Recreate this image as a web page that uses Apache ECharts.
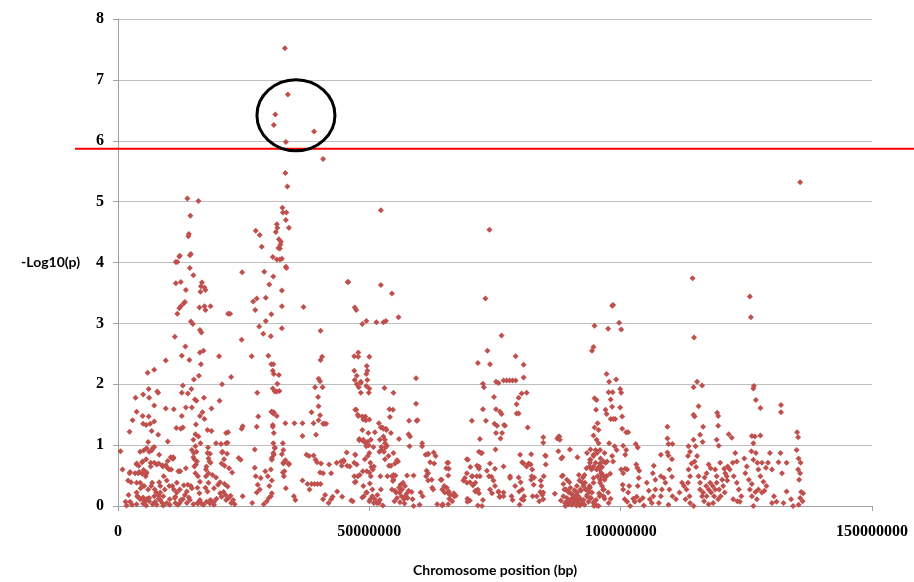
<!DOCTYPE html>
<html><head><meta charset="utf-8">
<script src="https://cdn.jsdelivr.net/npm/echarts@6/dist/echarts.min.js"></script>
<style>html,body{margin:0;padding:0;background:#fff}#c{width:914px;height:582px}</style>
</head><body><div id="c"></div>
<script>
// Axis ticks
const xTicks = [0, 50000000, 100000000, 150000000];
const yTicks = [0, 1, 2, 3, 4, 5, 6, 7, 8];
// Significance threshold (-log10 p)
const threshold = [5.87];
// Highlighted region centre [bp, -log10 p]
const highlightCenter = [35.4e6, 6.42];

// [position (bp), -log10(p)]
const seg1 = [
[13.8e6,5.05],[16.0e6,5.01],[14.4e6,4.77],[14.1e6,4.47],[14.0e6,4.43],[14.5e6,4.14],[14.3e6,4.12],[11.5e6,4.01],[11.8e6,4.01],[12.2e6,4.10],[12.3e6,4.11],[14.3e6,3.91],[15.0e6,3.79],[11.5e6,3.66],[12.5e6,3.68],[16.7e6,3.67],[16.5e6,3.61],[17.2e6,3.59],[17.4e6,3.55],[16.4e6,3.52],[13.5e6,3.55],[13.3e6,3.35],[13.1e6,3.33],[12.5e6,3.28],[12.2e6,3.25],[11.8e6,3.16],[16.2e6,3.26],[17.2e6,3.28],[17.4e6,3.22],[18.4e6,3.28],[14.5e6,3.03],[14.9e6,2.99],[16.3e6,2.89],[16.6e6,2.85],[11.3e6,2.78],[13.4e6,2.62],[17.0e6,2.55],[16.3e6,2.52],[12.7e6,2.47],[14.2e6,2.40],[16.5e6,2.33],[20.1e6,2.46],[9.5e6,2.39],[7.2e6,2.24],[5.9e6,2.19],[16.1e6,2.14],[15.1e6,2.08],[22.5e6,2.12],[20.7e6,2.00],[12.9e6,1.98],[14.6e6,1.92],[6.1e6,1.92],[7.8e6,1.88],[8.0e6,1.86],[5.0e6,1.83],[6.2e6,1.78],[3.5e6,1.78],[12.7e6,1.86],[13.9e6,1.85],[15.3e6,1.75],[15.6e6,1.73],[17.1e6,1.78],[9.5e6,1.60],[18.6e6,1.60],[13.5e6,1.62],[14.7e6,1.62],[3.7e6,1.55],[7.2e6,1.65],[2.9e6,1.41],[4.9e6,1.48],[5.0e6,1.35],[6.1e6,1.47],[5.6e6,1.33],[6.4e6,1.35],[7.2e6,1.39],[6.7e6,1.23],[2.3e6,1.22],[12.7e6,1.48],[16.3e6,1.48],[16.8e6,1.54],[17.2e6,1.43],[11.1e6,1.59],[15.5e6,1.34],[12.9e6,1.29],[12.5e6,1.27],[17.8e6,1.25],[18.6e6,1.23],[24.8e6,1.31],[24.6e6,1.27],[11.6e6,1.28],[9.9e6,1.06],[6.0e6,1.05],[8.0e6,1.17],[5.7e6,0.95],[4.4e6,0.89],[6.7e6,0.91],[8.2e6,0.84],[20.2e6,1.73],[21.9e6,3.16],[22.3e6,3.16],
[0.5e6,0.90],[0.9e6,0.60],[1.5e6,0.07],[1.7e6,0.01],[2.1e6,0.18],[2.3e6,0.54],[2.6e6,0.39],[3.7e6,0.70],[4.1e6,0.66],[4.9e6,0.73],[3.4e6,0.54],[4.0e6,0.54],[4.8e6,0.53],[5.1e6,0.91],[6.2e6,0.89],[6.9e6,0.95],[7.2e6,0.97],[4.4e6,0.38],[5.2e6,0.33],[4.5e6,0.29],[5.5e6,0.49],[3.7e6,0.22],[4.0e6,0.15],[4.9e6,0.11],[5.4e6,0.08],[5.8e6,0.12],[6.6e6,0.33],[7.3e6,0.27],[8.2e6,0.39],[8.4e6,0.22],[8.1e6,0.17],[8.8e6,0.05],[7.4e6,0.07],[10.7e6,0.79],[11.0e6,0.78],[9.1e6,0.49],[9.7e6,0.42],[10.2e6,0.60],[9.5e6,0.67],[10.8e6,0.33],[11.1e6,0.27],[11.7e6,0.22],[12.3e6,0.05],[12.5e6,0.10],[11.4e6,0.15],[12.2e6,0.57],[13.9e6,0.35],[14.5e6,0.33],[14.7e6,0.29],[13.7e6,0.24],[13.3e6,0.18],[14.1e6,0.14],[15.4e6,0.54],[15.9e6,0.49],[16.3e6,0.40],[15.8e6,0.30],[15.1e6,0.87],[15.2e6,0.77],[15.5e6,0.68],[14.7e6,0.92],[16.2e6,0.21],[16.6e6,0.04],[15.9e6,0.04],[17.4e6,0.30],[17.8e6,0.24],[17.5e6,0.49],[18.0e6,0.38],[17.6e6,0.65],[17.9e6,0.96],[18.3e6,0.86],[18.2e6,0.73],[18.8e6,0.51],[19.5e6,0.47],[19.1e6,0.29],[19.9e6,0.35],[20.3e6,0.39],[21.2e6,0.36],[21.8e6,0.32],[21.0e6,0.23],[21.4e6,0.18],[20.6e6,0.15],[21.5e6,0.10],[22.0e6,0.13],[22.5e6,0.05],[22.9e6,0.10],[23.2e6,0.03],[22.4e6,0.17],[20.3e6,0.21],[19.6e6,0.12],[19.1e6,0.07],[18.3e6,0.04],[20.7e6,0.88],[21.7e6,0.86],[21.5e6,1.03],[21.9e6,1.21],[24.0e6,0.79],[24.4e6,0.76],[24.8e6,0.16],
[2.4e6,0.56],[2.0e6,0.42],[5.1e6,0.59],[5.6e6,0.53],[6.5e6,0.65],[7.2e6,0.71],[8.1e6,0.70],[8.9e6,0.65],[9.9e6,0.62],[10.5e6,0.80],[10.9e6,0.78],[12.0e6,0.57],[12.4e6,0.57],[13.5e6,0.62],[15.0e6,1.09],[15.4e6,0.98],[15.6e6,0.89],[15.0e6,0.80],[15.7e6,0.73],[15.2e6,0.65],[15.4e6,1.18],[16.0e6,1.14],[16.4e6,1.03],[17.8e6,0.87],[18.0e6,0.78],[18.4e6,0.71],[17.5e6,0.60],[18.0e6,0.54],[19.5e6,1.03],[20.5e6,1.02],[20.8e6,0.89],[21.1e6,0.77],[21.8e6,1.04],[21.5e6,1.20],[22.1e6,0.62],[22.7e6,0.55],[20.6e6,0.70],[21.2e6,0.66],
[2.4e6,0.07],[2.8e6,0.02],[3.7e6,0.03],[4.4e6,0.11],[5.0e6,0.04],[5.6e6,0.01],[6.2e6,0.08],[6.9e6,0.03],[7.7e6,0.02],[8.4e6,0.10],[9.0e6,0.01],[9.7e6,0.05],[10.3e6,0.02],[11.4e6,0.05],[11.9e6,0.02],[12.9e6,0.11],[13.7e6,0.05],[14.3e6,0.10],[15.0e6,0.03],[15.8e6,0.05],[16.3e6,0.10],[17.0e6,0.02],[17.6e6,0.07],[18.4e6,0.10],[19.1e6,0.02],
[3.7e6,0.68],[4.8e6,0.72],[5.6e6,0.77],[4.2e6,0.56],[5.7e6,0.55],[6.5e6,0.71],[7.7e6,0.68],[8.8e6,0.67],[9.9e6,0.74],[11.0e6,0.80],[10.6e6,0.60],[3.7e6,0.38],[4.9e6,0.33],[6.0e6,0.27],[6.8e6,0.38],[7.6e6,0.22],[8.4e6,0.33],[9.3e6,0.27],[10.2e6,0.33],[11.7e6,0.38],[12.3e6,0.27],[13.1e6,0.34],[3.8e6,0.16],[5.0e6,0.14],[6.2e6,0.13],[7.2e6,0.16],[8.1e6,0.12],[9.0e6,0.16],[10.3e6,0.11],[11.3e6,0.13]
];

const seg2 = [
[33.2e6,7.52],[33.8e6,6.76],[31.3e6,6.43],[31.0e6,6.26],[39.0e6,6.15],[33.4e6,5.98],[33.3e6,5.47],[33.7e6,5.25],[40.8e6,5.70],
[32.7e6,4.90],[33.5e6,4.82],[32.8e6,4.82],[33.4e6,4.70],[34.0e6,4.57],[31.6e6,4.63],[31.7e6,4.57],[31.4e6,4.50],[32.0e6,4.38],[32.4e6,4.34],[31.9e6,4.24],[32.2e6,4.23],[32.3e6,4.29],[27.4e6,4.52],[28.2e6,4.45],[28.6e6,4.26],[30.8e6,4.09],[31.6e6,4.05],[32.2e6,4.05],[32.6e6,4.06],[33.4e6,3.93],[33.5e6,3.91],[24.7e6,3.84],[29.1e6,3.85],[30.9e6,3.77],[30.1e6,3.64],[26.9e6,3.36],[27.6e6,3.41],[27.3e6,3.22],[29.4e6,3.42],[32.6e6,3.54],[30.5e6,3.15],[29.4e6,3.04],[32.6e6,3.28],[28.1e6,2.95],[28.9e6,2.83],[30.4e6,2.79],[32.6e6,2.92],[24.6e6,2.73],[26.6e6,2.46],[29.9e6,2.47],[30.5e6,2.33],[30.9e6,2.33],[30.8e6,2.22],[31.0e6,2.17],[32.0e6,2.15],[31.7e6,2.01],[30.8e6,1.93],[31.2e6,1.88],[31.6e6,1.88],[32.1e6,1.89],[27.7e6,1.86],[30.6e6,1.55],[30.9e6,1.52],[31.6e6,1.48],[30.8e6,1.33],[31.0e6,1.20],[33.3e6,1.36],[27.6e6,1.30],[27.9e6,1.47],[30.9e6,1.03],[31.2e6,0.95],[31.0e6,0.84],[30.6e6,0.76],[32.8e6,1.03],[32.9e6,0.71],[32.8e6,0.55],[33.2e6,0.73],[34.0e6,0.70],[35.1e6,1.36],[36.7e6,1.36],[36.7e6,1.15],[36.9e6,3.27],[40.3e6,2.88],[40.6e6,2.45],[40.3e6,2.40],[39.9e6,2.09],[40.2e6,2.05],[40.7e6,1.95],[39.8e6,1.79],[39.9e6,1.64],[40.2e6,1.49],[39.2e6,1.95],[41.0e6,1.35],[41.4e6,1.35],[45.7e6,3.68],
[26.7e6,0.05],[27.2e6,0.93],[27.2e6,0.63],[27.4e6,0.49],[27.8e6,0.35],[28.4e6,0.46],[27.6e6,0.22],[28.2e6,0.27],[29.0e6,0.03],[29.6e6,0.08],[30.0e6,0.13],[30.4e6,0.16],[30.6e6,0.21],[29.3e6,0.57],[29.8e6,0.49],[30.1e6,0.33],[30.6e6,0.42],[30.4e6,0.60],[30.6e6,0.79],[30.9e6,0.87],[31.2e6,0.96],[30.8e6,1.30],[31.0e6,1.54],[30.5e6,1.55],[32.9e6,0.70],[33.3e6,0.75],[34.0e6,0.68],[33.1e6,0.57],[33.0e6,0.49],[33.4e6,0.29],[32.6e6,0.85],[32.9e6,0.92],[35.0e6,0.16],[35.3e6,0.10],[36.7e6,0.42],[37.7e6,0.36],[38.1e6,0.27],[38.5e6,0.36],[37.5e6,0.84],[38.0e6,0.82],[38.9e6,0.83],[39.3e6,0.76],[39.6e6,0.72],[40.4e6,0.70],[38.9e6,1.36],[39.4e6,1.17],[39.9e6,1.41],[40.8e6,1.35],[38.5e6,1.54],[40.2e6,0.55],[40.8e6,0.54],[42.0e6,0.68],[42.4e6,0.54],[39.1e6,0.36],[39.7e6,0.36],[40.3e6,0.36],[40.8e6,0.11],[41.2e6,0.18],[41.9e6,0.05],[42.4e6,0.11],[42.7e6,0.15],[44.4e6,0.73],[44.9e6,0.73],[45.6e6,0.66],[46.1e6,0.65],[44.6e6,0.15],[43.6e6,0.24],[46.7e6,0.08],[47.2e6,0.84],[47.5e6,0.68],[47.7e6,0.49],[47.3e6,0.40],[48.1e6,0.51],[48.0e6,1.10],[48.7e6,1.07],[49.3e6,1.03],[49.9e6,1.00],[47.2e6,1.58],[47.7e6,1.50],[48.8e6,1.42],[49.3e6,1.41],[50.0e6,1.42],[47.5e6,2.00],[48.3e6,2.04],[49.9e6,1.86]
];

const seg3 = [
[52.3e6,4.86],[45.8e6,3.68],[52.3e6,3.63],[54.5e6,3.49],[47.1e6,3.26],[47.4e6,3.22],[55.8e6,3.10],[48.6e6,2.99],[49.4e6,3.04],[51.4e6,3.02],[52.8e6,3.02],[53.3e6,3.04],[47.0e6,2.46],[47.8e6,2.52],[47.8e6,2.45],[47.0e6,2.22],[50.0e6,2.45],[49.5e6,2.30],[49.6e6,2.22],[49.4e6,2.17],[49.6e6,2.07],[47.5e6,2.14],[47.1e6,2.07],[48.3e6,2.02],[47.9e6,1.95],[48.3e6,1.86],[49.4e6,1.97],[50.0e6,1.93],[53.0e6,1.94],[59.3e6,2.10],[54.8e6,1.86],[47.4e6,1.58],[47.8e6,1.48],[48.6e6,1.47],[49.2e6,1.47],[54.0e6,1.59],[54.7e6,1.58],[54.1e6,1.46],[51.9e6,1.36],[52.3e6,1.29],[52.8e6,1.27],[53.3e6,1.27],[57.9e6,1.40],[59.4e6,1.40],[57.8e6,1.18],[58.1e6,1.14],[59.3e6,1.68],[48.6e6,1.25],[49.8e6,1.20],[48.0e6,1.08],[48.8e6,1.09],[49.6e6,1.05],[50.3e6,1.09],[52.1e6,1.09],[52.8e6,1.14],[53.1e6,1.03],[53.5e6,0.99],[52.4e6,0.92],[52.0e6,0.89],[52.9e6,0.89],[51.1e6,1.21],[54.3e6,1.20],[55.9e6,1.10],[58.0e6,0.98],[60.5e6,1.03],[60.5e6,0.98],[61.7e6,0.85],[62.8e6,0.88],[63.2e6,0.82],[62.9e6,0.70],[43.5e6,0.71],[45.5e6,0.88],[44.9e6,0.75],[44.5e6,0.66],[47.2e6,0.84],[47.0e6,0.71],[49.1e6,0.77],[50.0e6,0.87],[50.8e6,0.97],[48.7e6,0.57],[50.0e6,0.55],[50.7e6,0.60],[50.4e6,0.64],[54.8e6,0.87],[55.5e6,0.75],[55.7e6,0.73],[53.9e6,0.66],[47.0e6,0.49],[47.1e6,0.39],[46.4e6,0.09],[48.8e6,0.33],[49.4e6,0.22],[50.6e6,0.16],[50.0e6,0.08],[51.1e6,0.11],[51.9e6,0.05],[52.1e6,0.10],[52.7e6,0.01],[48.6e6,0.14],[54.5e6,0.49],[54.8e6,0.43],[55.2e6,0.50],[54.5e6,0.27],[55.1e6,0.25],[55.3e6,0.22],[56.0e6,0.22],[56.4e6,0.16],[56.5e6,0.27],[57.2e6,0.16],[57.6e6,0.13],[57.8e6,0.25],[58.4e6,0.23],[58.6e6,0.11],[56.9e6,0.11],[55.5e6,0.13],[57.5e6,0.50],[58.8e6,0.50],[60.2e6,0.22],[60.6e6,0.16],[61.4e6,0.58],[61.7e6,0.42],[62.5e6,0.30],[60.0e6,0.02],[58.8e6,0.00],[64.2e6,0.43],[64.5e6,0.27],[65.0e6,0.22],[65.4e6,0.30],[65.7e6,0.21],[65.9e6,0.12],[65.5e6,0.71],[65.8e6,0.61],[65.7e6,0.50],[64.6e6,0.03],[66.9e6,0.16],
[49.4e6,0.98],[49.7e6,0.82],[50.2e6,0.71],[50.9e6,0.65],[49.5e6,0.57],[50.3e6,0.49],[50.1e6,0.37],[50.6e6,0.27],[49.5e6,0.22],[48.9e6,0.16],[50.2e6,0.11],[50.9e6,0.05],[51.5e6,0.05],[52.6e6,1.29],[53.4e6,1.25],[53.1e6,1.09],[52.4e6,0.97],[53.2e6,0.96],[53.8e6,0.82],[53.1e6,0.77],[52.2e6,0.49],[53.6e6,0.49],[54.8e6,0.51],[55.1e6,0.70],[54.3e6,0.66],[54.7e6,0.41],[52.3e6,0.27],[51.6e6,0.18],[59.6e6,1.41],[61.2e6,0.84],[61.7e6,0.86],[62.1e6,0.72],[62.7e6,0.27],[61.3e6,0.49],[61.7e6,0.54],[62.4e6,0.43],[64.4e6,0.43],[64.9e6,0.33],[65.3e6,0.62],[65.7e6,0.71],[65.8e6,0.24],[66.1e6,0.18],[66.8e6,0.21],[67.2e6,0.17],[66.5e6,0.08],[64.5e6,0.01],[65.7e6,0.03],[63.5e6,0.03],
[55.9e6,0.30],[56.2e6,0.35],[56.7e6,0.38],[57.1e6,0.33],[57.4e6,0.20],[56.1e6,0.06],[57.0e6,0.04],[55.0e6,0.08]
];

const seg4 = [
[73.9e6,4.54],[73.1e6,3.41],[76.3e6,2.80],[73.5e6,2.55],[71.6e6,2.35],[74.0e6,2.33],[79.1e6,2.46],[80.7e6,2.32],[72.6e6,2.01],[72.8e6,1.95],[75.2e6,2.04],[75.7e6,2.02],[76.7e6,2.06],[77.3e6,2.06],[77.9e6,2.06],[78.5e6,2.06],[79.1e6,2.06],[80.7e6,2.11],[81.3e6,1.86],[80.3e6,1.85],[79.7e6,1.78],[79.3e6,1.67],[79.3e6,1.52],[79.7e6,1.52],[74.8e6,1.79],[75.2e6,1.59],[76.0e6,1.55],[76.3e6,1.51],[72.6e6,1.59],[70.4e6,1.40],[73.2e6,1.40],[74.9e6,1.35],[75.4e6,1.32],[76.8e6,1.33],[77.0e6,1.32],[75.2e6,1.20],[76.4e6,1.20],[76.1e6,1.11],[81.5e6,1.29],[72.0e6,1.10],
[68.7e6,0.42],[69.4e6,0.54],[69.6e6,0.76],[70.0e6,0.39],[70.6e6,0.34],[71.1e6,0.25],[70.4e6,0.49],[71.4e6,0.66],[71.8e6,0.61],[72.0e6,0.49],[71.1e6,0.38],[71.6e6,0.27],[69.5e6,0.12],[70.0e6,0.09],[71.6e6,0.01],[72.4e6,0.00],[71.8e6,0.89],[72.4e6,0.87],[74.0e6,0.70],[74.3e6,0.48],[74.7e6,0.42],[74.0e6,0.27],[74.4e6,0.21],[75.7e6,0.23],[76.0e6,0.15],[76.7e6,0.16],[75.1e6,0.93],[78.0e6,0.46],[78.3e6,0.16],[78.5e6,0.10],[79.7e6,0.47],[80.1e6,0.39],[80.4e6,0.27],[80.8e6,0.16],[80.7e6,0.10],[81.3e6,0.65],[81.7e6,0.70],[82.2e6,0.85],[82.2e6,0.43],[82.8e6,0.47],[82.5e6,0.16],[83.3e6,0.16],[83.8e6,0.08],[84.6e6,0.11],[84.6e6,0.22],[84.2e6,0.33],[84.6e6,1.13],[84.6e6,1.04],[85.0e6,0.83],[87.7e6,1.14],[87.9e6,1.09],[87.6e6,0.90],[88.2e6,0.78],[89.9e6,0.93],
[69.4e6,0.77],[70.1e6,0.64],[70.5e6,0.49],[69.0e6,0.46],[69.4e6,0.38],[70.7e6,0.35],[71.4e6,0.49],[71.8e6,0.65],[72.2e6,0.87],[73.4e6,0.58],[73.8e6,0.49],[71.1e6,0.24],[71.8e6,0.21],[69.5e6,0.07],[72.6e6,0.10],[75.0e6,0.61],[75.0e6,0.33],[75.7e6,0.24],[75.9e6,0.15],[76.7e6,0.22],[76.7e6,0.65],[78.0e6,0.49],[79.0e6,0.33],[79.8e6,0.24],[80.3e6,0.11],[79.9e6,0.02],[80.0e6,0.84],[80.4e6,0.72],[80.7e6,0.70],[82.1e6,0.68],[82.4e6,0.60],[82.7e6,0.35],[84.0e6,0.23],[84.4e6,0.18],[84.7e6,0.49],[84.1e6,0.42],[85.1e6,0.82],[85.1e6,0.68],[82.3e6,0.49],[86.9e6,0.20],[87.4e6,1.11],[87.8e6,1.14]
];

const seg5 = [
[88.3e6,0.49],[88.6e6,0.36],[89.1e6,0.27],[89.7e6,0.22],[89.3e6,0.13],[90.1e6,0.11],[90.6e6,0.08],[91.3e6,0.11],[91.0e6,0.15],[91.5e6,0.03],[91.9e6,0.01],[92.3e6,0.05],[92.6e6,0.10],[91.5e6,0.17],[92.1e6,0.25],[91.3e6,0.33],[92.6e6,0.33],[93.3e6,0.27],[93.8e6,0.23],[94.0e6,0.13],[93.3e6,0.15],[92.9e6,0.38],[88.6e6,0.16],[88.9e6,0.05],[89.7e6,0.03],[90.6e6,0.14],[91.8e6,0.42],[92.5e6,0.47],[91.4e6,0.80],[93.3e6,0.87],[94.0e6,0.76],[94.6e6,0.65],[95.2e6,0.60],[95.9e6,0.70],[96.2e6,0.49],[94.7e6,0.00],[95.8e6,0.16],[96.6e6,0.27],[97.0e6,0.71],[97.2e6,0.49],[97.5e6,0.22],[97.6e6,0.05],[95.0e6,0.92],[95.2e6,1.09],[95.6e6,1.25],[95.4e6,1.36],[95.1e6,1.58],[94.8e6,1.77],[95.2e6,1.74],[94.3e6,2.55],[94.6e6,2.61],[94.8e6,2.96],[97.2e6,2.17],[97.5e6,2.91],
[98.3e6,3.29],[98.5e6,3.30],[99.7e6,3.01],[100.1e6,2.90],[97.7e6,2.04],[99.1e6,2.08],[97.6e6,1.87],[98.4e6,1.87],[99.9e6,1.92],[100.1e6,1.86],[98.0e6,1.75],[98.3e6,1.63],[99.9e6,1.62],[97.0e6,1.58],[97.2e6,1.51],[98.0e6,1.43],[98.5e6,1.43],[98.9e6,1.43],[100.3e6,1.47],[94.6e6,1.16],[94.8e6,1.29],[100.3e6,1.27],[101.1e6,1.21],[101.5e6,1.21],[94.0e6,0.93],[94.6e6,0.84],[93.9e6,0.71],[94.2e6,0.60],[94.6e6,0.46],[93.9e6,0.30],[94.3e6,0.22],[94.8e6,0.08],[95.2e6,0.01],[95.6e6,1.03],[95.9e6,0.92],[96.8e6,0.87],[96.0e6,0.78],[96.6e6,0.73],[96.3e6,0.64],[95.8e6,0.60],[96.2e6,0.54],[96.6e6,0.49],[95.9e6,0.43],[96.8e6,0.43],[96.3e6,0.33],[96.6e6,0.27],[96.0e6,0.18],[96.6e6,0.16],[96.8e6,0.12],[95.6e6,0.00],[97.7e6,1.03],[98.3e6,0.82],[97.3e6,0.73],[98.5e6,0.73],[97.9e6,0.53],[97.1e6,0.49],[98.0e6,0.12],[99.2e6,0.92],[98.8e6,0.98],[100.5e6,0.99],[101.1e6,0.92],[100.1e6,0.60],
[88.4e6,0.80],[88.5e6,0.50],[89.3e6,0.43],[89.8e6,0.39],[88.8e6,0.27],[89.6e6,0.24],[90.2e6,0.20],[91.3e6,0.22],[92.0e6,0.27],[92.4e6,0.38],[91.7e6,0.51],[92.8e6,0.51],[93.2e6,0.62],[93.8e6,0.65],[93.9e6,0.76],[94.6e6,0.82],[95.3e6,0.87],[95.0e6,0.71],[95.7e6,0.65],[96.1e6,0.54],[95.4e6,0.49],[95.9e6,0.38],[96.5e6,0.27],[95.7e6,0.21],[95.1e6,0.10],[94.6e6,0.05],[94.1e6,0.13],[93.3e6,0.18],[93.0e6,0.27],[93.8e6,0.33],[94.6e6,0.38],
[89.9e6,0.06],[90.3e6,0.02],[90.9e6,0.04],[91.1e6,0.07],[91.7e6,0.09],[92.0e6,0.12],[90.5e6,0.18],[89.5e6,0.09],[91.2e6,0.01],[92.8e6,0.02],[90.0e6,0.30],[90.8e6,0.26],[93.6e6,0.07],[88.1e6,0.09],[89.0e6,0.00]
];

const seg6 = [
[135.7e6,5.32],[114.3e6,3.74],[125.7e6,3.44],[125.9e6,3.10],[114.6e6,2.77],[115.2e6,2.04],[114.5e6,1.95],[116.2e6,1.98],[126.5e6,1.97],[126.4e6,1.93],[115.5e6,1.64],[126.9e6,1.74],[127.8e6,1.61],[131.9e6,1.66],[131.9e6,1.54],[114.5e6,1.50],[114.7e6,1.47],[119.2e6,1.53],[119.4e6,1.48],[109.3e6,1.30],[116.4e6,1.30],[115.8e6,1.17],[116.3e6,1.05],[119.4e6,1.32],[119.1e6,1.09],[119.5e6,0.99],[121.5e6,1.18],[122.1e6,1.12],[109.3e6,1.11],[109.5e6,1.02],[110.3e6,1.02],[126.7e6,1.14],[126.1e6,1.15],[126.4e6,1.03],[127.8e6,1.16],[135.1e6,1.21],[135.3e6,1.13],[103.0e6,1.02],[103.4e6,0.96],
[100.9e6,0.84],[100.9e6,0.61],[100.5e6,0.54],[101.3e6,0.60],[101.7e6,0.33],[101.5e6,0.22],[100.8e6,0.11],[101.3e6,0.07],[100.4e6,0.35],[100.5e6,0.27],[103.1e6,0.68],[103.3e6,0.63],[103.7e6,0.58],[103.6e6,0.46],[103.4e6,0.33],[103.2e6,0.15],[102.5e6,0.12],[102.8e6,0.07],[103.8e6,0.09],[104.4e6,0.13],[104.6e6,0.01],[101.9e6,0.00],[105.2e6,0.38],[105.6e6,0.25],[106.4e6,0.54],[106.6e6,0.66],[106.9e6,0.43],[106.9e6,0.27],[106.5e6,0.16],[105.8e6,0.11],[106.2e6,0.05],[107.6e6,0.05],[108.0e6,0.16],[108.2e6,0.27],[108.6e6,0.46],[108.0e6,0.49],[108.9e6,0.38],[108.0e6,0.84],[109.3e6,0.88],[109.5e6,0.83],[110.2e6,0.77],[109.7e6,0.60],[110.2e6,0.48],[109.7e6,0.27],[110.3e6,0.16],[111.0e6,0.11],[109.5e6,0.02],[111.7e6,0.22],[112.2e6,0.38],[112.6e6,0.33],[113.1e6,0.27],[113.7e6,0.16],[112.9e6,0.11],[113.8e6,0.05],[114.5e6,0.00],[113.4e6,0.38],[113.8e6,0.49],[113.5e6,0.60],[114.1e6,0.70],[113.4e6,0.82],[113.8e6,0.89],[113.5e6,0.98],[114.5e6,1.09],[114.9e6,0.98],[115.2e6,0.82],[114.7e6,0.73],[115.0e6,0.64],[115.5e6,0.49],[115.8e6,0.38],[115.8e6,0.27],[116.4e6,0.22],[117.0e6,0.33],[117.1e6,0.16],[117.5e6,0.27],[117.8e6,0.38],[118.0e6,0.22],[118.3e6,0.33],[118.6e6,0.16],[118.8e6,0.27],[119.1e6,0.38],[119.4e6,0.11],[118.4e6,0.05],[117.5e6,0.03],[116.6e6,0.08],[116.2e6,0.16],[119.6e6,0.27],[119.9e6,0.16],[120.2e6,0.43],[120.4e6,0.33],[120.7e6,0.22],[120.8e6,0.54],[121.2e6,0.42],[120.6e6,0.61],[121.1e6,0.49],[117.5e6,0.68],[117.9e6,0.62],[117.1e6,0.54],[116.7e6,0.47],[118.8e6,0.60],[119.1e6,0.49],[119.8e6,0.71],[121.3e6,0.65],[121.7e6,0.60],[122.3e6,0.71],[122.8e6,0.87],[123.1e6,0.73],[122.5e6,0.49],[123.1e6,0.38],[123.5e6,0.27],[122.4e6,0.11],[123.2e6,0.08],[124.0e6,0.16],[123.7e6,0.07],[124.6e6,0.78],[125.1e6,0.65],[124.8e6,0.54],[125.5e6,0.43],[126.1e6,0.36],[125.7e6,0.27],[126.1e6,0.16],[126.4e6,0.00],[127.1e6,0.11],[126.8e6,0.23],[127.4e6,0.27],[128.1e6,0.22],[128.6e6,0.25],[129.0e6,0.33],[128.4e6,0.40],[127.8e6,0.49],[127.4e6,0.60],[127.2e6,0.71],[128.1e6,0.71],[128.9e6,0.63],[129.3e6,0.71],[129.7e6,0.87],[126.9e6,0.87],[126.4e6,0.76],[126.0e6,0.90],[130.1e6,0.60],[130.5e6,0.16],[131.0e6,0.07],[130.1e6,0.05],[132.1e6,0.54],[132.4e6,0.05],[133.0e6,0.71],[133.0e6,0.24],[133.9e6,0.11],[134.3e6,0.00],[131.4e6,0.72],[131.8e6,0.87],[135.0e6,0.92],[135.4e6,0.78],[135.8e6,0.71],[135.3e6,0.60],[135.7e6,0.54],[135.5e6,0.43],[135.9e6,0.23],[136.3e6,0.21],[135.7e6,0.13],[136.2e6,0.08],[135.4e6,0.02]
];

const points = [].concat(seg1, seg2, seg3, seg4, seg5, seg6);

const chart = echarts.init(document.getElementById('c'), null, {renderer: 'canvas'});
const gridGray = '#bfbfbf';
const axisGray = '#a0a0a0';
chart.setOption({
  animation: false,
  backgroundColor: '#fff',
  grid: {left: 118, right: 42, top: 19, bottom: 72},
  xAxis: {
    type: 'value', min: xTicks[0], max: xTicks[xTicks.length - 1], interval: xTicks[1] - xTicks[0],
    axisLine: {show: true, lineStyle: {color: axisGray, width: 1}},
    axisTick: {show: true, length: 5, lineStyle: {color: axisGray}},
    splitLine: {show: false},
    axisLabel: {formatter: v => String(v), color: '#000', fontFamily: 'Liberation Serif', fontWeight: 'bold', fontSize: 16, margin: 18},
    name: 'Chromosome position (bp)', nameLocation: 'middle', nameGap: 57,
    nameTextStyle: {fontFamily: 'Lato', fontWeight: 'bold', fontSize: 14, color: '#000'}
  },
  yAxis: {
    type: 'value', min: yTicks[0], max: yTicks[yTicks.length - 1], interval: 1,
    axisLine: {show: true, lineStyle: {color: axisGray, width: 1}},
    axisTick: {show: true, length: 5, lineStyle: {color: axisGray}},
    splitLine: {show: true, lineStyle: {color: gridGray, width: 1}},
    axisLabel: {color: '#000', fontFamily: 'Liberation Serif', fontWeight: 'bold', fontSize: 16, margin: 14},
    name: '-Log10(p)', nameLocation: 'middle', nameRotate: 0, nameGap: 38,
    nameTextStyle: {fontFamily: 'Lato', fontWeight: 'bold', fontSize: 14, color: '#000'}
  },
  series: [{
    type: 'scatter', data: points, symbol: 'diamond', symbolSize: 6,
    itemStyle: {color: '#C0504D', opacity: 1}, silent: true, large: false
  }]
});

const thrY = chart.convertToPixel({gridIndex: 0}, [0, threshold[0]])[1];
const cc = chart.convertToPixel({gridIndex: 0}, highlightCenter);
chart.setOption({
  graphic: [
    {type: 'line', z: 100, shape: {x1: 75, y1: thrY, x2: 914, y2: thrY}, style: {stroke: '#ff0000', lineWidth: 2}},
    {type: 'ellipse', z: 101, shape: {cx: cc[0], cy: cc[1], rx: 39, ry: 35.5}, style: {fill: 'none', stroke: '#000', lineWidth: 3}}
  ]
});
</script>
</body></html>
